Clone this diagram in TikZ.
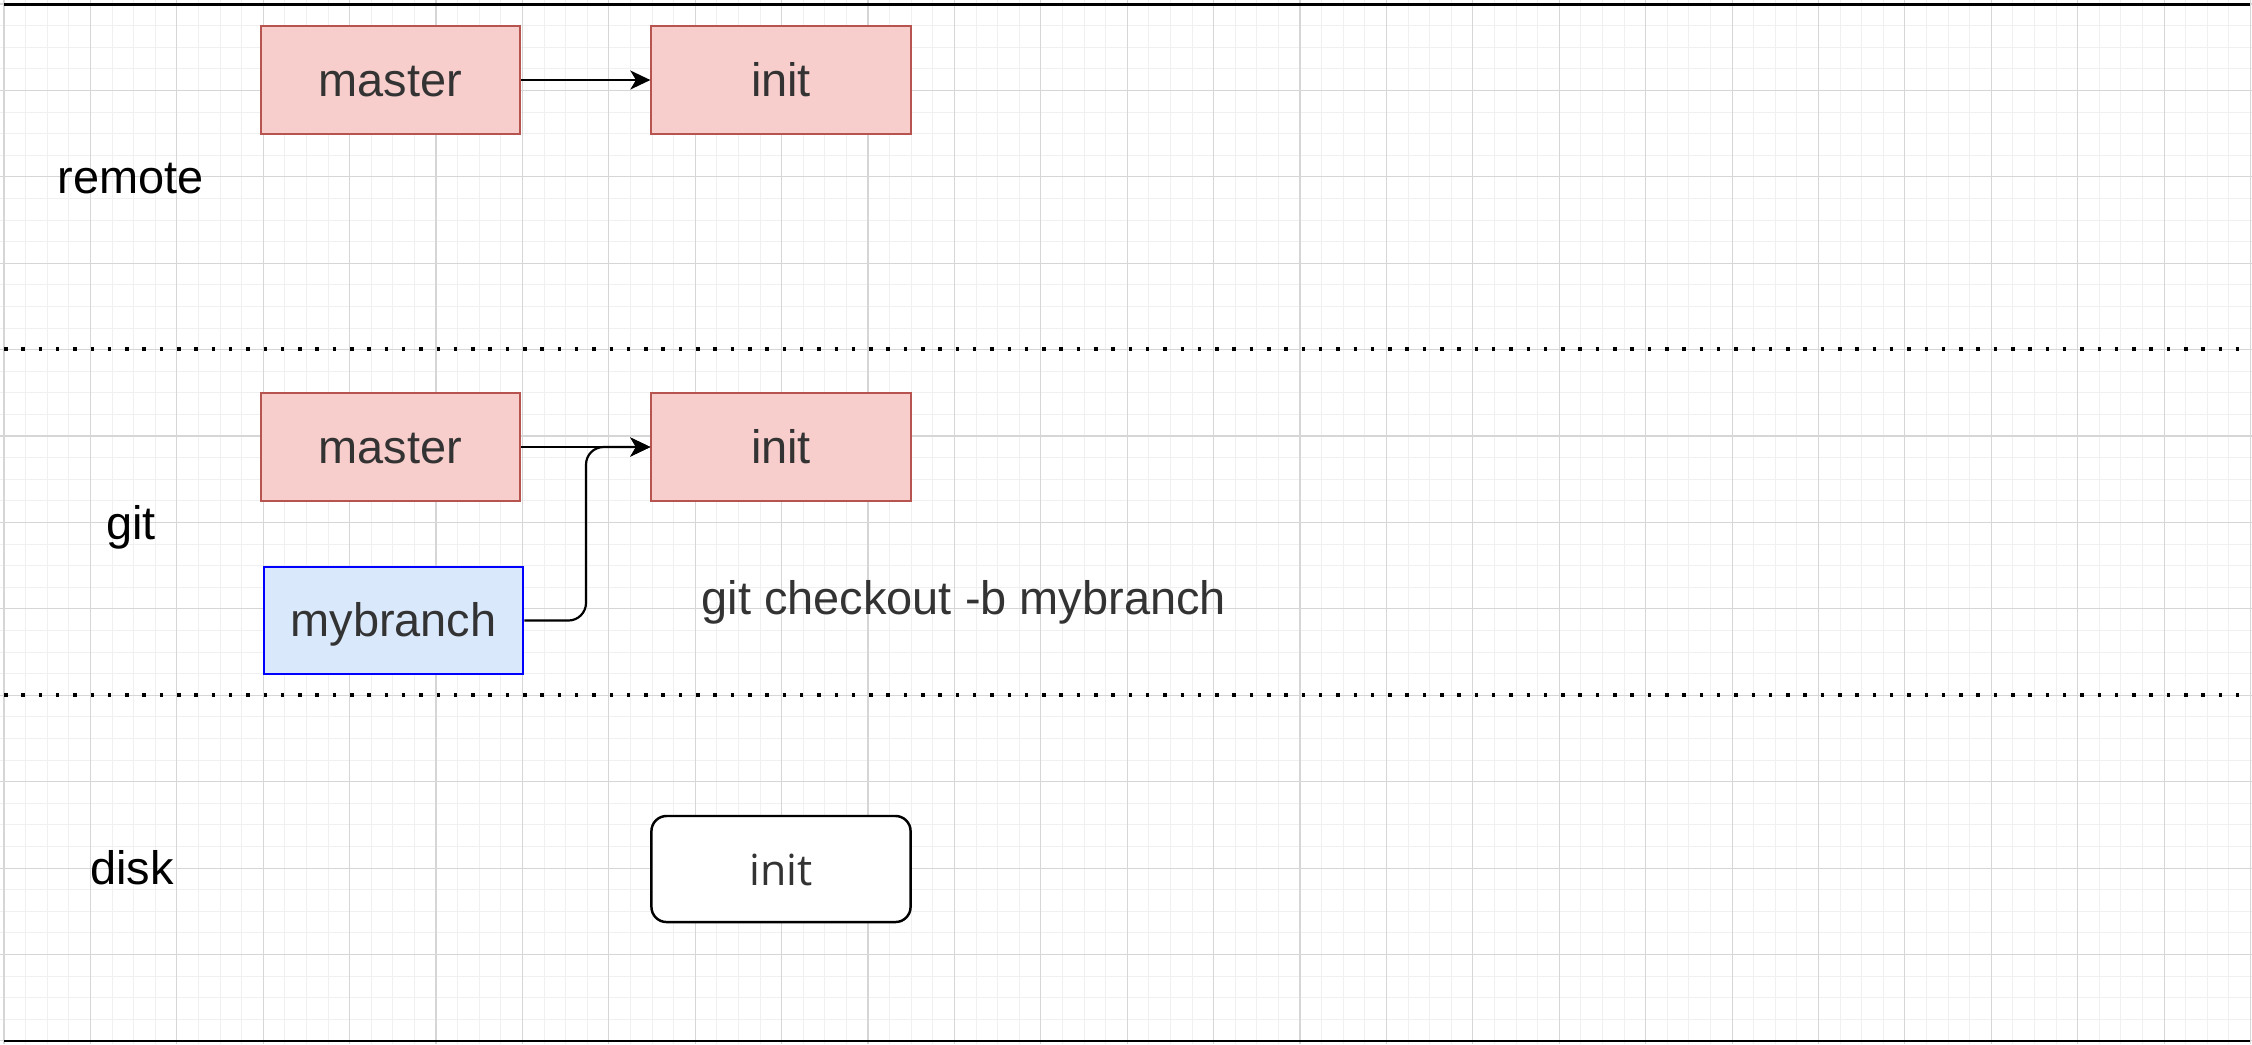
\documentclass[tikz,border=0pt]{standalone}
\usepackage{fontspec}
\setmainfont{Liberation Sans}
\newfontfamily\diskfont{Open Sans}
\usetikzlibrary{arrows.meta}
\definecolor{redfill}{HTML}{F8CECC}
\definecolor{redline}{HTML}{B85450}
\definecolor{bluefill}{HTML}{DAE8FC}
\definecolor{blueline}{HTML}{0000FF}
\definecolor{txtgray}{HTML}{333333}
\definecolor{gridminor}{HTML}{F0F0F0}
\definecolor{gridmajor}{HTML}{D6D6D6}
\tikzset{
  boxbase/.style={rectangle, minimum width=2.59cm, minimum height=1.08cm, inner sep=0pt,
    text height=0.40cm, text depth=0.08cm, text=txtgray,
    font=\fontsize{13.35pt}{15pt}\selectfont},
  redbox/.style={boxbase, fill=redfill, draw=redline, line width=0.6pt},
  bluebox/.style={boxbase, fill=bluefill, draw=blueline, line width=0.7pt},
  diskbox/.style={boxbase, fill=white, draw=black, line width=0.7pt, rounded corners=4.3pt,
    font=\diskfont\fontsize{12.2pt}{14pt}\selectfont},
  lanelabel/.style={anchor=base, inner sep=0pt, text=black, font=\fontsize{13.35pt}{15pt}\selectfont},
  note/.style={anchor=base, inner sep=0pt, text=txtgray, font=\fontsize{13.35pt}{15pt}\selectfont},
  conn/.style={line width=0.62pt, draw=black, -{Stealth[length=5.7pt, width=5.4pt, inset=1.6pt]}},
  solidsep/.style={line width=0.75pt, draw=black},
  dotsep/.style={line width=1pt, draw=black, dash pattern=on 1pt off 3.92pt},
  minorgrid/.style={line width=0.28pt, draw=gridminor},
  majorgrid/.style={line width=0.3pt, draw=gridmajor}
}
\begin{document}
\begin{tikzpicture}[x=0.01cm, y=-0.01cm]
\useasboundingbox (0,0) rectangle (2252,1044);
\fill[white] (0,0) rectangle (2252,1044);
% grid
\foreach \i in {0,...,104} \draw[minorgrid] ({4+21.6*\i},0) -- ({4+21.6*\i},1044);
\foreach \j in {0,...,48} \draw[minorgrid] (0,{4+21.6*\j}) -- (2252,{4+21.6*\j});
\foreach \i in {0,...,26} \draw[majorgrid] ({4+86.4*\i},0) -- ({4+86.4*\i},1044);
\foreach \j in {0,...,12} \draw[majorgrid] (0,{4+86.4*\j}) -- (2252,{4+86.4*\j});
% separators
\coordinate (topL) at (4,4.5);
\coordinate (topR) at (2250,4.5);
\coordinate (botL) at (4,1041);
\coordinate (botR) at (2250,1041);
\coordinate (d1L) at (4,349);
\coordinate (d1R) at (2250,349);
\coordinate (d2L) at (4,695);
\coordinate (d2R) at (2250,695);
\draw[solidsep] (topL) -- (topR);
\draw[solidsep] (botL) -- (botR);
\draw[dotsep] (d1L) -- (d1R);
\draw[dotsep] (d2L) -- (d2R);
% lane labels
\node[lanelabel] (lremote) at (131,193) {remote};
\node[lanelabel] (lgit) at (131,539) {git};
\node[lanelabel] (ldisk) at (132,884) {disk};
% remote lane
\node[redbox] (master1) at (390.5,80) {master};
\node[redbox] (init1) at (781,80) {init};
\draw[conn] (master1.east) -- (init1.west);
% git lane
\node[redbox] (master2) at (390.5,447) {master};
\node[redbox] (init2) at (781,447) {init};
\node[bluebox, minimum height=1.07cm] (mybranch) at (393.5,620.5) {mybranch};
\draw[conn] (master2.east) -- (init2.west);
\coordinate (k1) at (586,620.5);
\coordinate (k2) at (586,447);
\draw[conn, rounded corners=5pt] (mybranch.east) -- (k1) -- (k2) -- (init2.west);
\node[note] (cmd) at (963.75,614) {git checkout -b mybranch};
% disk lane
\node[diskbox, minimum height=1.06cm] (init3) at (781,869) {init};
\end{tikzpicture}
\end{document}
